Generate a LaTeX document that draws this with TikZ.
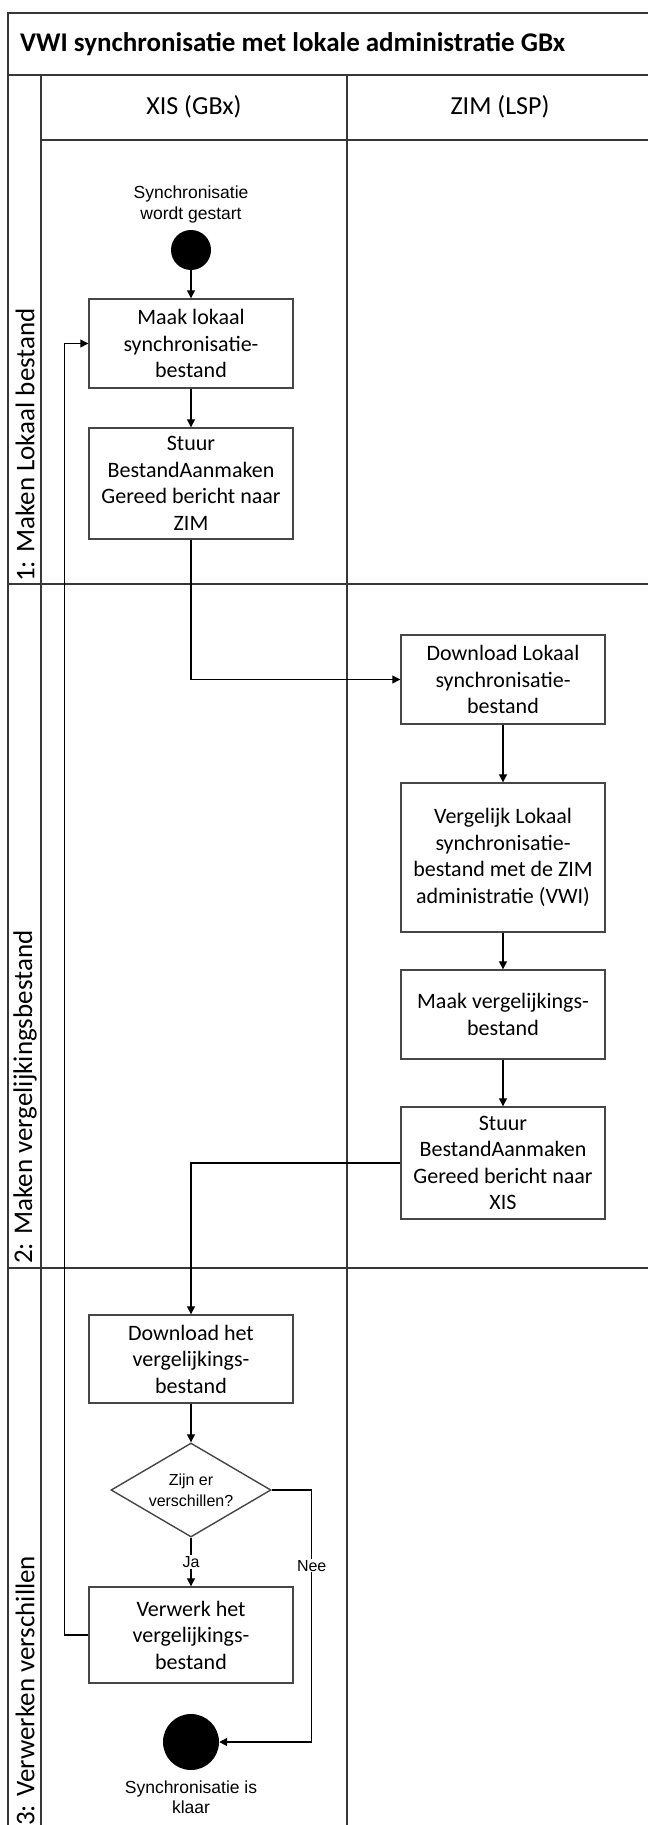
\documentclass[tikz,border=0pt]{standalone}
\usepackage{fontspec}
\setmainfont{Carlito}
\newfontfamily\notefont{Liberation Sans}
\usepackage{tikz}
\usetikzlibrary{arrows.meta,positioning,shapes.geometric,calc}
\definecolor{frame}{RGB}{55,55,55}
\definecolor{boxline}{RGB}{70,70,70}

\begin{document}
\begin{tikzpicture}[x=1pt,y=-1pt,
    lanes/.style={frame,line width=2pt},
    act/.style={rectangle,draw=boxline,line width=1.4pt,minimum width=204pt,align=center,
      inner sep=0pt,font=\fontsize{22}{26.5}\selectfont},
    flow/.style={-{Triangle[length=8pt,width=8pt]},line width=1.3pt},
    note/.style={align=center,inner sep=1pt,font=\notefont\fontsize{17.5}{21}\selectfont},
    dot/.style={circle,fill=black,inner sep=0pt},
    phase/.style={rotate=90,anchor=west,inner sep=0pt,font=\fontsize{27}{30}\selectfont}]
  \useasboundingbox (0,0) rectangle (648,1825);
  % pool and lanes
  \draw[lanes] (8,1825) |- (648,13);
  \draw[lanes] (8,75) -- (648,75);
  \draw[lanes] (41,140) -- (648,140);
  \draw[lanes] (41,75) -- (41,1825);
  \draw[lanes] (347,75) -- (347,1825);
  \foreach \y in {584,1268}
    \draw[lanes] (8,\y) -- (648,\y);
  \node[anchor=west,inner sep=0pt,font=\bfseries\fontsize{27}{30}\selectfont] (title) at (20,44)
    {VWI synchronisatie met lokale administratie GBx};
  \node[font=\fontsize{26}{30}\selectfont] (xis) at (194,107) {XIS (GBx)};
  \node[font=\fontsize{26}{30}\selectfont] (zim) at (500,107) {ZIM (LSP)};
  \node[phase] (fase1) at (25,582) {1: Maken Lokaal bestand};
  \node[phase] (fase2) at (25,1264) {2: Maken vergelijkingsbestand};
  \node[phase] (fase3) at (25,1826) {3: Verwerken verschillen};

  % activities
  \node[dot,minimum size=40pt] (start) at (191,250) {};
  \node[note] (startlbl) at (191,204) {Synchronisatie\\wordt gestart};
  \node[act,minimum height=89pt] (maak) at (191,343.5) {Maak lokaal\\synchronisatie-\\bestand};
  \node[act,minimum height=111pt] (stuurzim) at (191,483.5) {Stuur\\BestandAanmaken\\Gereed bericht naar\\ZIM};
  \node[act,minimum height=89pt] (downlokaal) at (503,679.5) {Download Lokaal\\synchronisatie-\\bestand};
  \node[act,minimum height=149pt] (vergelijk) at (503,857.5) {Vergelijk Lokaal\\synchronisatie-\\bestand met de ZIM\\administratie (VWI)};
  \node[act,minimum height=89pt] (maakverg) at (503,1014.5) {Maak vergelijkings-\\bestand};
  \node[act,minimum height=112pt] (stuurxis) at (503,1163) {Stuur\\BestandAanmaken\\Gereed bericht naar\\XIS};
  \node[act,minimum height=88pt] (downverg) at (191,1359) {Download het\\vergelijkings-\\bestand};
  \node[diamond,draw=boxline,line width=1.4pt,aspect=1.7,inner sep=0pt,minimum width=160pt,minimum height=94pt,
    align=center,font=\notefont\fontsize{16}{21}\selectfont] (keuze) at (191,1490) {Zijn er\\verschillen?};
  \node[act,minimum height=96pt] (verwerk) at (191,1635) {Verwerk het\\vergelijkings-\\bestand};
  \node[dot,minimum size=56pt] (eind) at (191,1742) {};
  \node[note,font=\notefont\fontsize{17.5}{20}\selectfont] (eindlbl) at (191,1797) {Synchronisatie is\\klaar};

  % flows
  \draw[flow] (start) -- (maak);
  \draw[flow] (maak) -- (stuurzim);
  \draw[flow] (stuurzim.south) |- (downlokaal.west);
  \draw[flow] (downlokaal) -- (vergelijk);
  \draw[flow] (vergelijk) -- (maakverg);
  \draw[flow] (maakverg) -- (stuurxis);
  \draw[flow] (stuurxis.west) -| (downverg.north);
  \draw[flow] (downverg) -- (keuze);
  \draw[flow] (keuze) -- node[note,fill=white,font=\notefont\fontsize{16}{20}\selectfont] (ja) {Ja} (verwerk);
  \draw[flow] (keuze.east) -- ++(40,0) |- node[pos=0.15,note,fill=white,font=\notefont\fontsize{16}{20}\selectfont] (nee) {Nee} (eind.east);
  \draw[flow] (verwerk.west) -- ++(-24,0) |- (maak.west);
\end{tikzpicture}
\end{document}
